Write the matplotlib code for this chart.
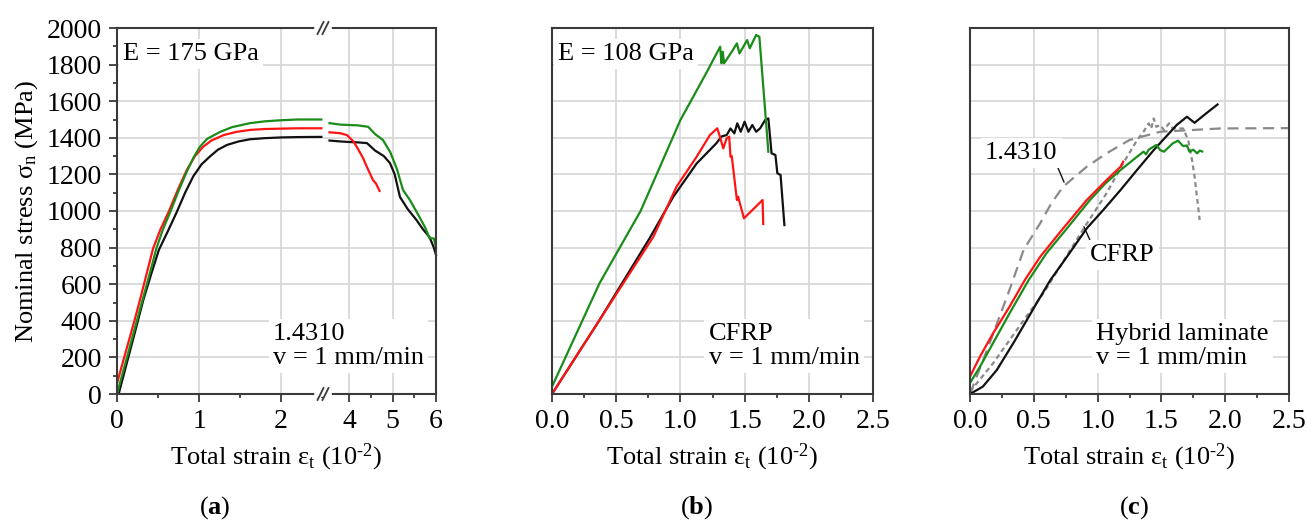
import matplotlib
matplotlib.use("Agg")
import matplotlib.pyplot as plt
from matplotlib.lines import Line2D
from matplotlib.ticker import MultipleLocator, FormatStrFormatter

plt.rcParams['font.family'] = ['Liberation Serif', 'DejaVu Serif']
plt.rcParams['mathtext.fontset'] = 'custom'
plt.rcParams['mathtext.rm'] = 'Liberation Serif'
plt.rcParams['mathtext.it'] = 'Liberation Serif:italic'
plt.rcParams['mathtext.bf'] = 'Liberation Serif:bold'

# ---- (a) stainless steel 1.4310, broken strain axis ----
a_green_x1 = [0, 0.1, 0.2, 0.3, 0.4, 0.48, 0.56, 0.65, 0.75, 0.85, 0.93, 1.01, 1.1, 1.26, 1.4, 1.62, 1.8, 2.0, 2.2, 2.49]
a_green_y1 = [0, 165, 330, 495, 660, 796, 900, 996, 1110, 1215, 1290, 1351, 1395, 1433, 1458, 1480, 1490, 1496, 1500, 1500]
a_red_x1 = [0, 0.1, 0.2, 0.28, 0.36, 0.44, 0.53, 0.63, 0.74, 0.85, 0.95, 1.05, 1.15, 1.3, 1.45, 1.62, 1.8, 2.0, 2.2, 2.49]
a_red_y1 = [58, 220, 380, 514, 655, 796, 900, 996, 1115, 1224, 1300, 1351, 1385, 1415, 1432, 1443, 1448, 1450, 1452, 1452]
a_black_x1 = [0.02, 0.12, 0.22, 0.32, 0.42, 0.51, 0.62, 0.73, 0.83, 0.93, 1.03, 1.13, 1.23, 1.34, 1.48, 1.62, 1.8, 2.0, 2.2, 2.49]
a_black_y1 = [0, 170, 340, 513, 660, 787, 890, 996, 1100, 1190, 1255, 1297, 1335, 1361, 1380, 1392, 1398, 1402, 1404, 1405]

a_green_x2 = [3.55, 3.8, 4.0, 4.2, 4.44, 4.6, 4.78, 4.95, 5.1, 5.24, 5.4, 5.62, 5.75, 5.85, 5.95, 6.0]
a_green_y2 = [1480, 1472, 1470, 1468, 1460, 1420, 1388, 1320, 1230, 1115, 1060, 967, 910, 852, 850, 800]
a_black_x2 = [3.55, 3.8, 4.0, 4.2, 4.41, 4.6, 4.8, 4.94, 5.05, 5.17, 5.35, 5.55, 5.7, 5.85, 5.95, 6.0]
a_black_y2 = [1385, 1380, 1377, 1375, 1371, 1330, 1300, 1262, 1200, 1077, 1010, 951, 900, 858, 800, 760]
a_red_x2 = [3.55, 3.8, 3.95, 4.1, 4.22, 4.32, 4.41, 4.55, 4.62, 4.7]
a_red_y2 = [1430, 1425, 1415, 1380, 1333, 1290, 1241, 1169, 1150, 1110]

# ---- (b) CFRP ----
b_green_x = [0, 0.37, 0.69, 1.0, 1.2, 1.31, 1.32, 1.33, 1.34, 1.40, 1.44, 1.46, 1.52, 1.54, 1.59, 1.615, 1.685]
b_green_y = [40, 605, 1000, 1497, 1752, 1898, 1807, 1870, 1807, 1870, 1916, 1861, 1934, 1889, 1962, 1952, 1324]
b_black_x = [0, 0.37, 0.76, 0.945, 1.127, 1.28, 1.32, 1.36, 1.39, 1.42, 1.443, 1.47, 1.50, 1.53, 1.56, 1.59, 1.62, 1.66, 1.685, 1.71, 1.74, 1.755, 1.78, 1.81]
b_black_y = [0, 404, 851, 1078, 1260, 1370, 1407, 1415, 1451, 1424, 1479, 1433, 1488, 1433, 1470, 1433, 1451, 1497, 1506, 1315, 1306, 1206, 1197, 923]
b_red_x = [0, 0.37, 0.79, 0.97, 1.127, 1.23, 1.287, 1.30, 1.334, 1.36, 1.38, 1.39, 1.40, 1.44, 1.45, 1.46, 1.495, 1.64, 1.645]
b_red_y = [0, 404, 860, 1133, 1297, 1415, 1452, 1424, 1342, 1397, 1406, 1297, 1300, 1060, 1078, 1050, 960, 1060, 929]

# ---- (c) hybrid laminate ----
c_black_x = [0, 0.1, 0.21, 0.35, 0.5, 0.63, 0.76, 0.915, 1.05, 1.18, 1.31, 1.44, 1.62, 1.70, 1.76, 1.85, 1.94]
c_black_y = [0, 40, 131, 290, 470, 623, 750, 905, 1010, 1115, 1225, 1333, 1470, 1515, 1482, 1533, 1582]
c_red_x = [0, 0.078, 0.18, 0.31, 0.43, 0.55, 0.73, 0.915, 1.07, 1.18, 1.20]
c_red_y = [95, 204, 331, 477, 623, 750, 905, 1060, 1169, 1242, 1269]
c_green_x = [0, 0.078, 0.18, 0.31, 0.46, 0.6, 0.76, 0.94, 1.06, 1.18, 1.31, 1.36, 1.38, 1.40, 1.46, 1.49, 1.52, 1.59, 1.63, 1.67, 1.70, 1.72, 1.75, 1.78, 1.80, 1.82]
c_green_y = [60, 149, 277, 441, 623, 770, 905, 1060, 1150, 1224, 1297, 1324, 1310, 1335, 1361, 1333, 1324, 1370, 1384, 1355, 1358, 1324, 1335, 1315, 1330, 1325]
steel_ref_x = [0, 0.15, 0.31, 0.42, 0.55, 0.64, 0.73, 0.915, 1.07, 1.25, 1.49, 1.96, 2.5]
steel_ref_y = [0, 270, 570, 787, 933, 1045, 1133, 1242, 1315, 1388, 1433, 1451, 1453]
cfrp_ref_x = [0, 0.18, 0.44, 0.575, 0.9, 1.07, 1.2, 1.31, 1.36, 1.40, 1.42, 1.44, 1.46, 1.49, 1.52, 1.56, 1.59, 1.67, 1.71, 1.74, 1.76, 1.80]
cfrp_ref_y = [13, 167, 422, 550, 914, 1097, 1260, 1388, 1433, 1479, 1450, 1506, 1460, 1470, 1442, 1479, 1451, 1451, 1388, 1279, 1188, 951]

GREEN = '#1a8c1a'
RED = '#ff1414'
BLACK = '#111111'
GREY = '#8a8a8a'
SPINE = '#3a3a3a'
GRID = '#d6d6d6'
FS = 19
TICK_FS = 20
LW = 1.6

W, H = 1307, 522
fig = plt.figure(figsize=(W / 100, H / 100), dpi=100)


def rect(x0, x1, top=28, bottom=394):
    return [x0 / W, 1 - bottom / H, (x1 - x0) / W, (bottom - top) / H]


def style(ax, yticks=True):
    ax.set_ylim(0, 2000)
    ax.yaxis.set_major_locator(MultipleLocator(200))
    ax.yaxis.set_minor_locator(MultipleLocator(100))
    ax.grid(True, which='major', color=GRID, lw=1.2)
    ax.set_axisbelow(True)
    for s in ax.spines.values():
        s.set_color(SPINE)
        s.set_linewidth(1.5)
    ax.tick_params(which='both', direction='out', color=SPINE, width=1.3,
                   labelsize=TICK_FS, top=False, right=False)
    ax.tick_params(which='major', length=6, pad=5)
    ax.tick_params(which='minor', length=3)
    if not yticks:
        ax.tick_params(axis='y', which='both', left=False, labelleft=False)


def box_text(ax, x, y, s, **kw):
    ax.text(x, y, s, fontsize=FS, va='center', ha='left', zorder=5,
            bbox=dict(facecolor='white', edgecolor='none', pad=3), **kw)


xlabel = 'Total strain ε$_{\\mathrm{t}}$ (10$^{\\mathrm{\u2010}2}$)'

# panel (a)
ax_l = fig.add_axes(rect(117, 323))
ax_r = fig.add_axes(rect(323, 436))
style(ax_l)
style(ax_r, yticks=False)
ax_l.set_xlim(0, 2.51)
ax_r.set_xlim(3.4, 6.0)
ax_l.xaxis.set_major_locator(MultipleLocator(1))
ax_l.xaxis.set_minor_locator(MultipleLocator(0.5))
ax_r.set_xticks([4, 5, 6])
ax_r.set_xticks([4.5, 5.5], minor=True)
ax_l.spines['right'].set_visible(False)
ax_r.spines['left'].set_visible(False)
ax_l.plot(a_black_x1, a_black_y1, color=BLACK, lw=LW)
ax_l.plot(a_red_x1, a_red_y1, color=RED, lw=LW)
ax_l.plot(a_green_x1, a_green_y1, color=GREEN, lw=LW)
ax_r.plot(a_black_x2, a_black_y2, color=BLACK, lw=LW, clip_on=False)
ax_r.plot(a_red_x2, a_red_y2, color=RED, lw=LW)
ax_r.plot(a_green_x2, a_green_y2, color=GREEN, lw=LW, clip_on=False)
ax_l.set_ylabel('Nominal stress σ$_{\\mathrm{n}}$ (MPa)', fontsize=FS, labelpad=5)
fig.text((117 + 436) / 2 / W, 1 - 457 / H, xlabel, fontsize=FS, ha='center', va='center')
box_text(ax_l, 0.07, 1858, 'E = 175 GPa')
ax_r.text(1.9, 262, '1.4310\nv = 1 mm/min', transform=ax_l.transData, fontsize=FS,
          va='center', ha='left', zorder=5, linespacing=1.1, clip_on=False,
          bbox=dict(facecolor='white', edgecolor='none', pad=3))

# break marks on the strain axis
pos = ax_l.get_position()
xj = pos.x1
for yj in (pos.y0, pos.y1):
    fig.add_artist(Line2D([xj - 6 / W, xj + 6 / W], [yj, yj], color='white', lw=4))
    for off in (-2.5, 2.5):
        xc = xj + off / W
        fig.add_artist(Line2D([xc - 3 / W, xc + 3 / W], [yj - 6 / H, yj + 6 / H],
                              color=SPINE, lw=1.3))

# panel (b)
ax_b = fig.add_axes(rect(552, 873))
style(ax_b, yticks=False)
ax_b.set_xlim(0, 2.5)
ax_b.xaxis.set_major_locator(MultipleLocator(0.5))
ax_b.xaxis.set_minor_locator(MultipleLocator(0.25))
ax_b.xaxis.set_major_formatter(FormatStrFormatter('%.1f'))
ax_b.plot(b_black_x, b_black_y, color=BLACK, lw=LW)
ax_b.plot(b_red_x, b_red_y, color=RED, lw=LW)
ax_b.plot(b_green_x, b_green_y, color=GREEN, lw=LW)
fig.text((552 + 873) / 2 / W, 1 - 457 / H, xlabel, fontsize=FS, ha='center', va='center')
box_text(ax_b, 0.047, 1858, 'E = 108 GPa')
ax_b.text(1.22, 262, 'CFRP\nv = 1 mm/min', fontsize=FS, va='center', ha='left', zorder=5,
          linespacing=1.1, bbox=dict(facecolor='white', edgecolor='none', pad=3))

# panel (c)
ax_c = fig.add_axes(rect(970, 1289))
style(ax_c, yticks=False)
ax_c.set_xlim(0, 2.5)
ax_c.xaxis.set_major_locator(MultipleLocator(0.5))
ax_c.xaxis.set_minor_locator(MultipleLocator(0.25))
ax_c.xaxis.set_major_formatter(FormatStrFormatter('%.1f'))
ax_c.plot(steel_ref_x, steel_ref_y, color=GREY, lw=LW, dashes=(5, 3))
ax_c.plot(cfrp_ref_x, cfrp_ref_y, color=GREY, lw=LW, dashes=(2.2, 1.6))
ax_c.plot(c_black_x, c_black_y, color=BLACK, lw=LW)
ax_c.plot(c_green_x, c_green_y, color=GREEN, lw=LW)
ax_c.plot(c_red_x, c_red_y, color=RED, lw=LW)
fig.text((970 + 1289) / 2 / W, 1 - 457 / H, xlabel, fontsize=FS, ha='center', va='center')
ax_c.text(0.99, 262, 'Hybrid laminate\nv = 1 mm/min', fontsize=FS, va='center', ha='left',
          zorder=5, linespacing=1.1, bbox=dict(facecolor='white', edgecolor='none', pad=3))
box_text(ax_c, 0.118, 1317, '1.4310')
ax_c.annotate('', xy=(0.737, 1158), xytext=(0.68, 1251),
              arrowprops=dict(arrowstyle='-', color=BLACK, lw=1.0, shrinkA=0, shrinkB=0))
box_text(ax_c, 0.94, 760, 'CFRP')
ax_c.annotate('', xy=(0.94, 841), xytext=(0.893, 914),
              arrowprops=dict(arrowstyle='-', color=BLACK, lw=1.0, shrinkA=0, shrinkB=0))

# panel letters
for xp, letter in ((215, 'a'), (697, 'b'), (1134, 'c')):
    fig.text(xp / W, 1 - 508 / H, r'($\mathbf{%s}$)' % letter, fontsize=FS,
             ha='center', va='center')

fig.savefig('out.png', dpi=100)
